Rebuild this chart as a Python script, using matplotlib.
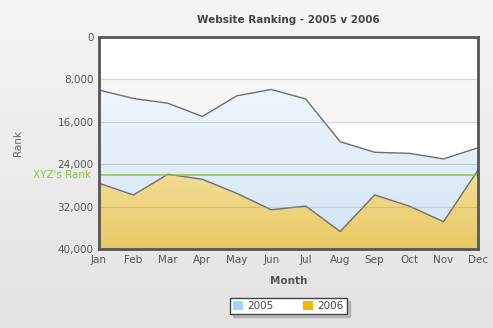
import numpy as np
import matplotlib.pyplot as plt
from matplotlib.patches import Patch
from matplotlib.colors import LinearSegmentedColormap
from matplotlib.ticker import FuncFormatter

months = ["Jan", "Feb", "Mar", "Apr", "May", "Jun",
          "Jul", "Aug", "Sep", "Oct", "Nov", "Dec"]
rank_2005 = [10000, 11600, 12500, 15000, 11100, 9900,
             11700, 19750, 21750, 21950, 23000, 20900]
rank_2006 = [27600, 29800, 25900, 26850, 29500, 32600,
             31900, 36700, 29800, 31900, 34850, 25100]
xyz_rank = 26100
y_ticks = [0, 8000, 16000, 24000, 32000, 40000]

fig = plt.figure(figsize=(4.93, 3.28), dpi=100)

# soft grey page background
bg = fig.add_axes([0, 0, 1, 1], zorder=-10)
bg.imshow(np.linspace(0, 1, 256).reshape(-1, 1), aspect="auto",
          cmap=LinearSegmentedColormap.from_list("bg", ["#f5f5f5", "#e3e3e3"]),
          extent=[0, 1, 0, 1])
bg.axis("off")

ax = fig.add_axes([0.2008, 0.2409, 0.7688, 0.6463])
x = np.arange(len(months))
ax.set_xlim(0, len(months) - 1)
ax.set_ylim(40000, 0)

# alternating horizontal bands
for i, (lo, hi) in enumerate(zip(y_ticks[:-1], y_ticks[1:])):
    ax.axhspan(lo, hi, color="#ffffff" if i % 2 == 0 else "#f6f6f6", zorder=0, lw=0)


def gradient_area(values, top, bottom, z):
    poly = ax.fill_between(x, values, 40000, color="none", lw=0, zorder=z)
    cmap = LinearSegmentedColormap.from_list("g", [top, bottom])
    img = ax.imshow(np.linspace(0, 1, 256).reshape(-1, 1), aspect="auto", cmap=cmap,
                    extent=[0, len(months) - 1, 40000, min(values)], zorder=z)
    img.set_clip_path(poly.get_paths()[0], transform=ax.transData)
    ax.plot(x, values, color="#6e6e6e", lw=1.0, zorder=z + 0.1)


gradient_area(rank_2005, "#eff5fc", "#d2e4f5", 1)
gradient_area(rank_2006, "#f3de98", "#e8c963", 2)

for t in y_ticks[1:-1]:
    ax.axhline(t, color="#9a9a9a", lw=0.8, alpha=0.4, zorder=3)

ax.axhline(xyz_rank, color="#8dc63f", lw=1.1, zorder=4)
ax.text(-0.02, xyz_rank, "XYZ's Rank", transform=ax.get_yaxis_transform(),
        ha="right", va="center", color="#8dc63f", fontsize=7.5)

ax.set_xticks(x)
ax.set_xticklabels(months)
ax.set_yticks(y_ticks)
ax.yaxis.set_major_formatter(FuncFormatter(lambda v, p: f"{int(v):,}"))
ax.tick_params(length=0, labelsize=7.5, labelcolor="#555555", pad=4)
for s in ax.spines.values():
    s.set_color("#555555")
    s.set_linewidth(2)
    s.set_zorder(5)

ax.set_title("Website Ranking - 2005 v 2006", fontsize=7.5, fontweight="bold",
             color="#444444", pad=10)
ax.set_xlabel("Month", fontsize=7.5, fontweight="bold", color="#555555", labelpad=8)
fig.text(0.037, 0.565, "Rank", rotation=90, ha="center", va="center",
         fontsize=7.5, color="#666666")

handles = [Patch(facecolor="#a9d3f5", edgecolor="none", label="2005"),
           Patch(facecolor="#f5b800", edgecolor="none", label="2006")]
fig.legend(handles=handles, loc="center", bbox_to_anchor=(0.585, 0.067), ncol=2,
           fontsize=7.5, frameon=True, fancybox=False,
           shadow={"ox": 2, "oy": -2, "alpha": 0.25},
           edgecolor="#444444", handlelength=1.0, handleheight=1.0,
           columnspacing=2.8, handletextpad=0.4, borderpad=0.3,
           labelcolor="#444444")

fig.savefig("out.png", dpi=100)
